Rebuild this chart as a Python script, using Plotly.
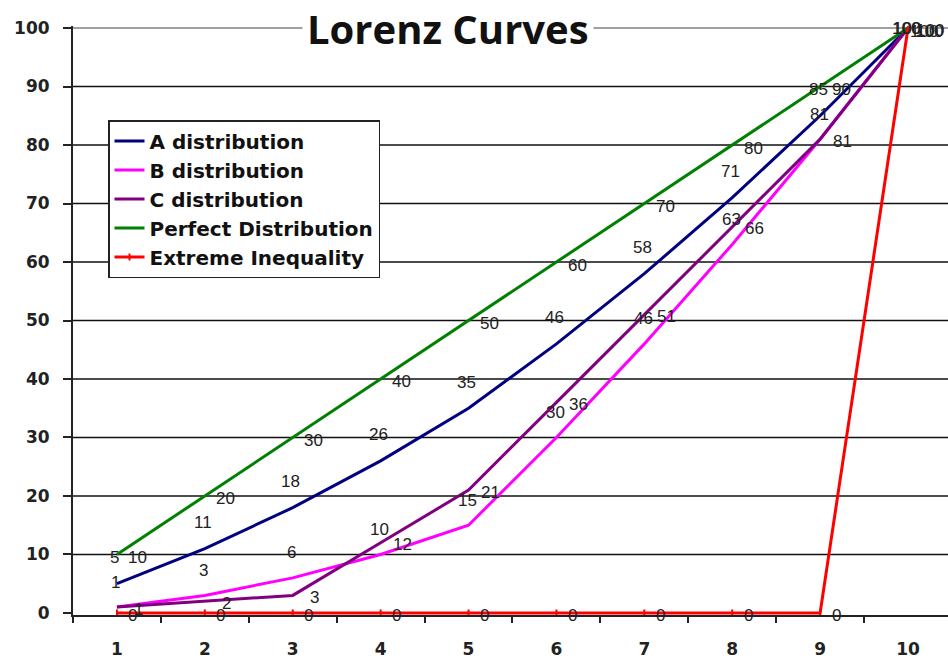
import plotly.graph_objects as go

categories = ["1", "2", "3", "4", "5", "6", "7", "8", "9", "10"]
a_dist = [5, 11, 18, 26, 35, 46, 58, 71, 85, 100]
b_dist = [1, 3, 6, 10, 15, 30, 46, 63, 81, 100]
c_dist = [1, 2, 3, 12, 21, 36, 51, 66, 81, 100]
perfect = [10, 20, 30, 40, 50, 60, 70, 80, 90, 100]
extreme = [0, 0, 0, 0, 0, 0, 0, 0, 0, 100]
y_ticks = [0, 10, 20, 30, 40, 50, 60, 70, 80, 90, 100]

series = [
    ("A distribution", a_dist, "#000080", (-2, 26)),
    ("B distribution", b_dist, "#FF00FF", (-1, 25)),
    ("C distribution", c_dist, "#800080", (22, -2)),
    ("Perfect Distribution", perfect, "#008000", (21, -3)),
    ("Extreme Inequality", extreme, "#FF0000", (16, -3)),
]

fig = go.Figure()
annotations = []
for name, vals, color, (dx, dy) in series:
    if name == "Extreme Inequality":
        fig.add_trace(go.Scatter(
            x=categories, y=vals, name=name, mode="lines+markers",
            line=dict(color=color, width=3),
            marker=dict(symbol="line-ns-open", size=5, color=color, line=dict(color=color, width=2)),
        ))
    else:
        fig.add_trace(go.Scatter(
            x=categories, y=vals, name=name, mode="lines",
            line=dict(color=color, width=3),
        ))
    for i, v in enumerate(vals):
        ys = dy if (v < 100 or dy < 0) else 0
        annotations.append(dict(
            x=i, y=v, xref="x", yref="y", text=str(v), showarrow=False,
            xshift=dx, yshift=ys,
            font=dict(family="Liberation Sans, Arial", size=17, color="#222222"),
        ))

annotations.append(dict(
    x=(448 - 73) / 875, y=(615 - 28) / 589, xref="paper", yref="paper",
    text="<b>Lorenz Curves</b>", showarrow=False, bgcolor="white", borderpad=4,
    xanchor="center", yanchor="middle",
    font=dict(family="Open Sans", size=40, color="#111111"),
))

grid_shapes = []
for t in y_ticks[1:]:
    grid_shapes.append(dict(
        type="line", xref="paper", yref="y", x0=0, x1=1, y0=t, y1=t,
        line=dict(color="#A0A0A0" if t == y_ticks[-1] else "#111111",
                  width=2 if t == y_ticks[-1] else 1.5),
        layer="below",
    ))

fig.update_layout(
    width=948, height=658,
    margin=dict(l=73, r=0, t=26, b=43),
    paper_bgcolor="white", plot_bgcolor="white",
    showlegend=True,
    legend=dict(
        x=(108 - 73) / 875, y=(615 - 120) / 589, xanchor="left", yanchor="top",
        bgcolor="white", bordercolor="#222222", borderwidth=1.5,
        font=dict(family="DejaVu Sans", size=20, color="#111111", weight="bold"),
        itemwidth=30, tracegroupgap=0,
    ),
    annotations=annotations,
    shapes=grid_shapes,
)

fig.update_xaxes(
    type="category", range=[-0.5, 9.455], tickson="boundaries",
    ticks="outside", ticklen=6, tickcolor="#222222", tickwidth=2,
    showgrid=False, showline=True, linecolor="#222222", linewidth=2,
    ticklabelstandoff=18,
    tickfont=dict(family="DejaVu Sans", size=17, color="#222222", weight="bold"),
)
fig.update_yaxes(
    range=[-0.35, 100.35], tickvals=y_ticks,
    ticks="outside", ticklen=8, tickcolor="#222222", tickwidth=2,
    showgrid=False,
    showline=True, linecolor="#222222", linewidth=2, zeroline=False,
    ticklabelstandoff=10,
    tickfont=dict(family="DejaVu Sans", size=17, color="#222222", weight="bold"),
)

fig.write_html(
    "out.html",
    config={"displayModeBar": False},
    post_script="document.body.style.margin='0';document.body.style.overflow='hidden';",
)
